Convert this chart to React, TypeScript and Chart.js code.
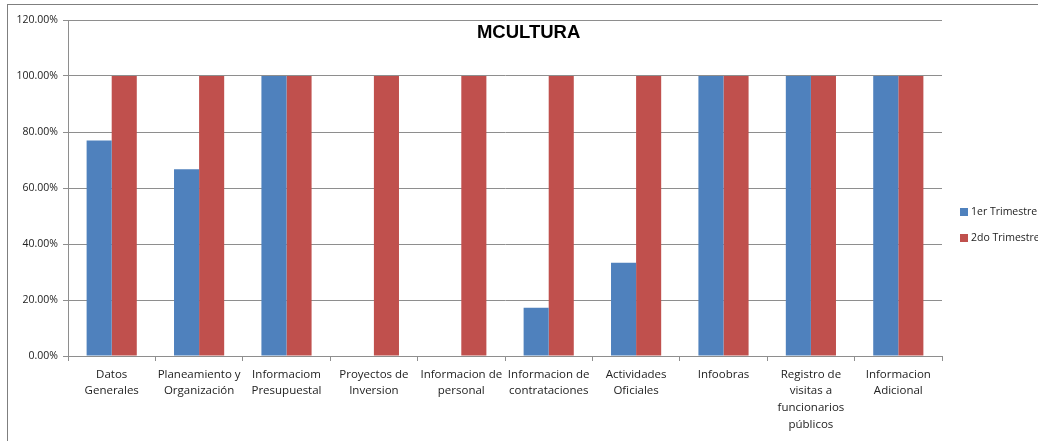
import React, { useEffect, useRef } from "react";
import { Chart, registerables } from "chart.js";

Chart.register(...registerables);

const categories: (string | string[])[] = [
  ["Datos", "Generales"],
  ["Planeamiento y", "Organización"],
  ["Informaciom", "Presupuestal"],
  ["Proyectos de", "Inversion"],
  ["Informacion de", "personal"],
  ["Informacion de", "contrataciones"],
  ["Actividades", "Oficiales"],
  "Infoobras",
  ["Registro de", "visitas a", "funcionarios", "públicos"],
  ["Informacion", "Adicional"],
];

const trimestre1: (number | null)[] = [76.92, 66.67, 100, 0, 0, 17.24, 33.33, 100, 100, 100];
const trimestre2: number[] = [100, 100, 100, 100, 100, 100, 100, 100, 100, 100];

const seriesNames = ["1er Trimestre", "2do Trimestre"];
const yTicks = [0, 20, 40, 60, 80, 100, 120];
const titleText = "MCULTURA";

const FONT = "'Open Sans', 'Liberation Sans', sans-serif";
const TFONT = "'Liberation Sans', Arial, sans-serif";

export default function App() {
  const ref = useRef<HTMLCanvasElement | null>(null);

  useEffect(() => {
    if (!ref.current) return;
    const titlePlugin = {
      id: "customTitleLegend",
      afterDraw(chart: any) {
        const ctx = chart.ctx;
        const ca = chart.chartArea;
        ctx.save();
        ctx.fillStyle = "#000";
        ctx.font = `bold 18.5px ${TFONT}`;
        ctx.textAlign = "center";
        ctx.textBaseline = "middle";
        ctx.fillText(titleText, ca.left + (ca.right - ca.left) * 0.527, ca.top + 13);
        // legend
        const cy = chart.height / 2;
        const items = chart.data.datasets;
        items.forEach((ds: any, i: number) => {
          const y = cy - 13 + i * 26;
          ctx.fillStyle = ds.backgroundColor;
          ctx.fillRect(ca.right + 18, y - 4, 8, 8);
          ctx.fillStyle = "#222";
          ctx.font = `10.5px ${FONT}`;
          ctx.textAlign = "left";
          ctx.textBaseline = "middle";
          ctx.fillText(ds.label, ca.right + 29, y);
        });
        ctx.restore();
      },
    };

    const chart = new Chart(ref.current, {
      type: "bar",
      data: {
        labels: categories,
        datasets: [
          {
            label: seriesNames[0],
            data: trimestre1,
            backgroundColor: "#4F81BD",
            borderWidth: 0,
          },
          {
            label: seriesNames[1],
            data: trimestre2,
            backgroundColor: "#C0504D",
            borderWidth: 0,
          },
        ],
      },
      options: {
        responsive: false,
        animation: false,
        devicePixelRatio: 1,
        layout: { padding: { left: 0, top: 15, right: 166, bottom: 0 } },
        datasets: {
          bar: { categoryPercentage: 0.574, barPercentage: 1 },
        },
        plugins: {
          legend: { display: false },
          title: { display: false },
          tooltip: { enabled: false },
        },
        scales: {
          x: {
            afterFit: (s: any) => {
              s.height = 89;
            },
            grid: {
              offset: true,
              drawOnChartArea: false,
              drawTicks: true,
              tickLength: 5,
              color: "#8e8e8e",
            },
            border: { display: true, color: "#8e8e8e" },
            ticks: {
              color: "#222",
              font: { family: FONT, size: 11.5, lineHeight: 1.45 },
              padding: 5,
              maxRotation: 0,
              autoSkip: false,
            },
          },
          y: {
            min: 0,
            max: 120,
            afterFit: (s: any) => {
              s.width = 60;
            },
            afterBuildTicks: (s: any) => {
              s.ticks = yTicks.map((v) => ({ value: v }));
            },
            grid: {
              color: "#8e8e8e",
              tickLength: 5,
            },
            border: { display: true, color: "#8e8e8e" },
            ticks: {
              color: "#222",
              font: { family: FONT, size: 10.5 },
              padding: 5,
              callback: (v: any) => Number(v).toFixed(2) + "%",
            },
          },
        },
      },
      plugins: [titlePlugin],
    });
    return () => chart.destroy();
  }, []);

  return (
    <div
      style={{
        position: "fixed",
        left: 0,
        top: 0,
        width: 1038,
        height: 441,
        overflow: "hidden",
        background: "#fff",
      }}
    >
      <div
        style={{
          position: "absolute",
          left: 7,
          top: 4,
          width: 1100,
          height: 440,
          border: "1px solid #7f7f7f",
        }}
      >
        <canvas ref={ref} width={1100} height={440} style={{ display: "block" }} />
      </div>
    </div>
  );
}
